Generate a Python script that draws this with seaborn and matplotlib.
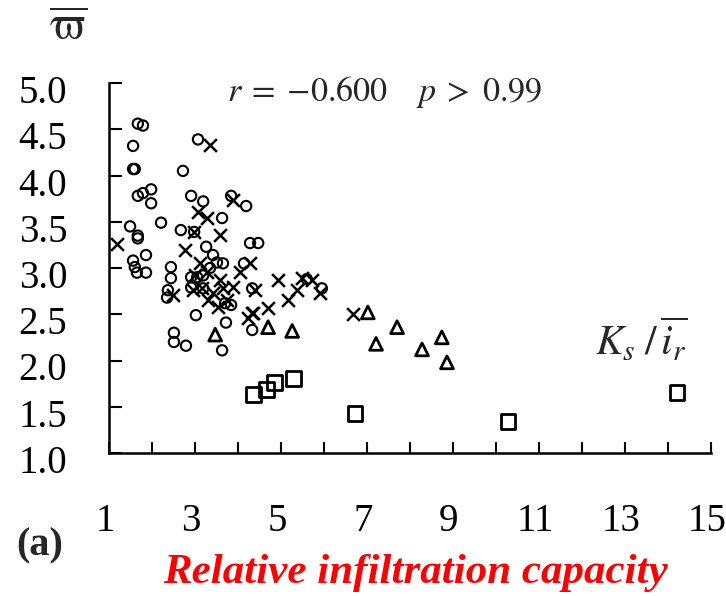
import numpy as np
import pandas as pd
import matplotlib
matplotlib.use("Agg")
import matplotlib.pyplot as plt
import matplotlib.transforms as mtransforms
import seaborn as sns

# ---------------- data ----------------
circle_x = [1.67, 1.79, 1.56, 1.56, 1.60, 2.72, 3.07, 1.98, 1.79, 1.67, 1.98, 2.91,
            3.19, 3.84, 4.19, 3.63, 2.21, 1.49, 1.67, 1.67, 2.67, 2.98, 4.28, 4.47,
            3.26, 1.56, 1.60, 1.65, 1.86, 1.86, 2.44, 2.44, 3.42, 3.51, 3.65, 4.14,
            2.91, 3.05, 3.19, 3.35, 3.19, 2.37, 2.35, 3.70, 3.84, 3.02, 3.72, 4.33,
            2.51, 2.51, 2.79, 3.63, 5.60, 5.95, 4.33, 2.91]
circle_y = [4.56, 4.54, 4.32, 4.07, 4.07, 4.05, 4.39, 3.85, 3.81, 3.78, 3.70, 3.78,
            3.72, 3.78, 3.67, 3.54, 3.49, 3.45, 3.35, 3.32, 3.41, 3.39, 3.27, 3.27,
            3.23, 3.08, 3.01, 2.95, 2.95, 3.14, 3.01, 2.89, 3.14, 3.06, 3.05, 3.05,
            2.90, 2.90, 2.92, 3.00, 2.78, 2.76, 2.68, 2.62, 2.60, 2.49, 2.41, 2.33,
            2.30, 2.20, 2.16, 2.11, 2.88, 2.78, 2.78, 2.79]

cross_x = [3.35, 1.19, 3.07, 3.28, 3.88, 2.98, 3.58, 2.77, 3.12, 3.00, 3.28, 3.58,
           3.16, 3.42, 3.65, 3.88, 3.30, 3.53, 4.05, 4.28, 2.95, 3.74, 4.35, 2.49,
           4.93, 4.40, 5.49, 5.72, 5.37, 5.16, 5.91, 4.70, 4.33, 4.23, 6.67]
cross_y = [4.33, 3.26, 3.61, 3.54, 3.74, 3.39, 3.36, 3.19, 3.05, 2.92, 2.96, 2.87,
           2.78, 2.73, 2.78, 2.79, 2.65, 2.58, 2.96, 3.05, 2.76, 2.65, 2.51, 2.71,
           2.87, 2.76, 2.89, 2.87, 2.76, 2.65, 2.73, 2.57, 2.51, 2.46, 2.50]

tri_x = [3.47, 4.70, 5.26, 7.02, 7.70, 7.21, 8.28, 8.74, 8.86]
tri_y = [2.28, 2.36, 2.32, 2.52, 2.36, 2.18, 2.12, 2.25, 1.98]

square_x = [4.37, 4.67, 4.84, 5.30, 6.72, 10.28, 14.21]
square_y = [1.63, 1.69, 1.76, 1.81, 1.43, 1.34, 1.65]

x_ticks = list(range(1, 16))
x_ticklabels = [str(v) if v % 2 == 1 else "" for v in x_ticks]
y_ticks = [1.0, 1.5, 2.0, 2.5, 3.0, 3.5, 4.0, 4.5, 5.0]
y_ticklabels = ["1.0", "1.5", "2.0", "2.5", "3.0", "3.5", "4.0", "4.5", "5.0"]

stat_text = r"$r\;=\;{-}0.600\quad\; p\;>\;0.99$"
ratio_text = r"$K_s\;/\,\overline{i_r}$"
y_title = r"$\overline{\mathrm{\varpi}}$"
panel_label = "(a)"
x_title = "Relative infiltration capacity"

# ---------------- style ----------------
sns.set_style("ticks")
plt.rcParams["font.family"] = ["Liberation Serif", "DejaVu Serif"]
plt.rcParams["mathtext.fontset"] = "stix"

W, H, DPI = 726, 596, 100
fig = plt.figure(figsize=(W / DPI, H / DPI), dpi=DPI)
ax = fig.add_axes([109 / W, 1 - 453 / H, (711 - 109) / W, (453 - 83) / H])

df = pd.concat([
    pd.DataFrame({"x": circle_x, "y": circle_y, "g": "circle"}),
    pd.DataFrame({"x": cross_x, "y": cross_y, "g": "cross"}),
    pd.DataFrame({"x": tri_x, "y": tri_y, "g": "tri"}),
    pd.DataFrame({"x": square_x, "y": square_y, "g": "square"}),
], ignore_index=True)

specs = {
    "circle": dict(marker="o", s=55, lw=1.5),
    "cross": dict(marker="x", s=85, lw=1.8),
    "tri": dict(marker="^", s=85, lw=2.0),
    "square": dict(marker="s", s=115, lw=2.0),
}
for g, sp in specs.items():
    sub = df[df["g"] == g]
    coll_before = len(ax.collections)
    sns.scatterplot(data=sub, x="x", y="y", marker=sp["marker"], s=sp["s"],
                    color="black", linewidth=sp["lw"], ax=ax, legend=False, zorder=3)
    for c in ax.collections[coll_before:]:
        if sp["marker"] != "x":
            c.set_facecolor("none")
        c.set_edgecolor("black")
        c.set_linewidth(sp["lw"])

ax.set_xlim(1, 15)
ax.set_ylim(1, 5)
ax.set_xlabel("")
ax.set_ylabel("")
for side in ["top", "right"]:
    ax.spines[side].set_visible(False)
for side in ["left", "bottom"]:
    ax.spines[side].set_linewidth(1.8)
    ax.spines[side].set_color("black")

ax.set_xticks(x_ticks)
ax.set_xticklabels(x_ticklabels)
ax.set_yticks(y_ticks)
ax.set_yticklabels(y_ticklabels)
ax.tick_params(axis="both", direction="in", width=1.5, colors="black", labelsize=28,
               bottom=True, left=True, top=False, right=False)
ax.tick_params(axis="y", length=9.5, pad=30)
ax.tick_params(axis="x", length=8, pad=36)

off_y = mtransforms.ScaledTranslation(0, -6 / DPI, fig.dpi_scale_trans)
off_x = mtransforms.ScaledTranslation(-4 / DPI, 0, fig.dpi_scale_trans)
for lab in ax.get_yticklabels():
    lab.set_transform(lab.get_transform() + off_y)
for lab in ax.get_xticklabels():
    lab.set_transform(lab.get_transform() + off_x)

fig.text(68 / W, 1 - 29 / H, y_title, fontsize=34, ha="center", va="center")
fig.text(385 / W, 1 - 92 / H, stat_text, fontsize=24.5, ha="center", va="center")
fig.text(641 / W, 1 - 340 / H, ratio_text, fontsize=30, ha="center", va="center")
fig.text(40 / W, 1 - 546 / H, panel_label, fontsize=29, fontweight="bold",
         ha="center", va="center")
fig.text(415 / W, 1 - 573 / H, x_title, fontsize=31, fontweight="bold",
         fontstyle="italic", color="#ff0000", ha="center", va="center")

fig.savefig("out.png", dpi=DPI, facecolor="white")
